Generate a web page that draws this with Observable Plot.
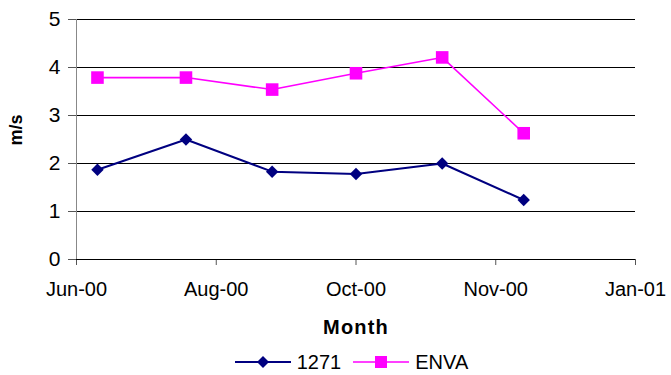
<!DOCTYPE html>
<html>
<head>
<meta charset="utf-8">
<script src="https://cdn.jsdelivr.net/npm/d3@7"></script>
<script src="https://cdn.jsdelivr.net/npm/@observablehq/plot@0.6"></script>
<style>
  body { margin: 0; background: #fff; font-family: "Liberation Sans", Arial, sans-serif; }
  #chart { width: 671px; }
  .legend { display: flex; justify-content: center; align-items: center; height: 24px; padding-left: 32px; font-size: 20px; color: #000; }
  .legend .item { display: flex; align-items: center; margin: 0 6px; }
  .legend svg { margin-right: 6px; }
</style>
</head>
<body>
<div id="chart"></div>
<script>
// Data
const dates = ["2000-06-12", "2000-07-20", "2000-08-26", "2000-10-01", "2000-11-07", "2000-12-12"];
const values1271 = [1.87, 2.5, 1.83, 1.78, 2.0, 1.24];
const valuesENVA = [3.79, 3.79, 3.54, 3.88, 4.21, 2.63];
const seriesNames = ["1271", "ENVA"];
const seriesColors = ["#000080", "#FF00FF"];
const xTickDates = ["2000-06-03", "2000-08-02", "2000-10-01", "2000-11-30", "2001-01-29"];
const xTickLabels = ["Jun-00", "Aug-00", "Oct-00", "Nov-00", "Jan-01"];
const yTicks = [0, 1, 2, 3, 4, 5];
const xTitle = "Month";
const yTitle = "m/s";

const parse = d3.utcParse("%Y-%m-%d");
const tickObjs = xTickDates.map(parse);
const labelByTime = new Map(tickObjs.map((d, i) => [+d, xTickLabels[i]]));
const data1271 = dates.map((d, i) => ({date: parse(d), value: values1271[i]}));
const dataENVA = dates.map((d, i) => ({date: parse(d), value: valuesENVA[i]}));

const chart = Plot.plot({
  width: 671,
  height: 350,
  marginLeft: 76,
  marginRight: 36,
  marginTop: 19,
  marginBottom: 91,
  style: {fontFamily: "'Liberation Sans', Arial, sans-serif", fontSize: "20px", color: "#000", background: "#fff"},
  x: {type: "utc", domain: [tickObjs[0], tickObjs[tickObjs.length - 1]]},
  y: {domain: [0, 5]},
  marks: [
    Plot.ruleY(yTicks.filter(v => v > 0), {stroke: "#000", strokeWidth: 1}),
    Plot.ruleX([tickObjs[0]], {stroke: "#888", strokeWidth: 1}),
    Plot.axisY({ticks: yTicks, tickFormat: d3.format("d"), tickSize: 8, tickPadding: 8, label: null, fontSize: 21, stroke: "#555"}),
    Plot.axisX({ticks: tickObjs, tickFormat: d => labelByTime.get(+d), tickSize: 6, tickPadding: 16, label: null, fontSize: 20, stroke: "#555"}),
    Plot.ruleY([0], {stroke: "#000", strokeWidth: 1}),
    Plot.line(data1271, {x: "date", y: "value", stroke: seriesColors[0], strokeWidth: 2}),
    Plot.line(dataENVA, {x: "date", y: "value", stroke: seriesColors[1], strokeWidth: 1.6}),
    Plot.dot(data1271, {x: "date", y: "value", symbol: "diamond2", r: 5.6, fill: seriesColors[0], stroke: "none"}),
    Plot.dot(dataENVA, {x: "date", y: "value", symbol: "square", r: 7.1, fill: seriesColors[1], stroke: "none"}),
    Plot.text([xTitle], {text: d => d, frameAnchor: "bottom", dy: 74, fontWeight: "bold", fontSize: 20, className: "xtitle"}),
    Plot.text([yTitle], {text: d => d, frameAnchor: "left", dx: -60, dy: 6, rotate: -90, fontWeight: "bold", fontSize: 18})
  ]
});
d3.select(chart).selectAll(".xtitle text").style("letter-spacing", "1.2px");
document.getElementById("chart").appendChild(chart);

// Legend (HTML below the SVG)
const legend = d3.select("#chart").append("div").attr("class", "legend");
seriesNames.forEach((name, i) => {
  const item = legend.append("div").attr("class", "item");
  const svg = item.append("svg").attr("width", 56).attr("height", 16);
  svg.append("line").attr("x1", 0).attr("x2", 56).attr("y1", 8).attr("y2", 8)
    .attr("stroke", seriesColors[i]).attr("stroke-width", i === 0 ? 2 : 1.6);
  if (i === 0) {
    svg.append("path").attr("d", "M28,2 L34,8 L28,14 L22,8 Z").attr("fill", seriesColors[i]);
  } else {
    svg.append("rect").attr("x", 22).attr("y", 2).attr("width", 12).attr("height", 12).attr("fill", seriesColors[i]);
  }
  item.append("span").text(name);
});
</script>
</body>
</html>
